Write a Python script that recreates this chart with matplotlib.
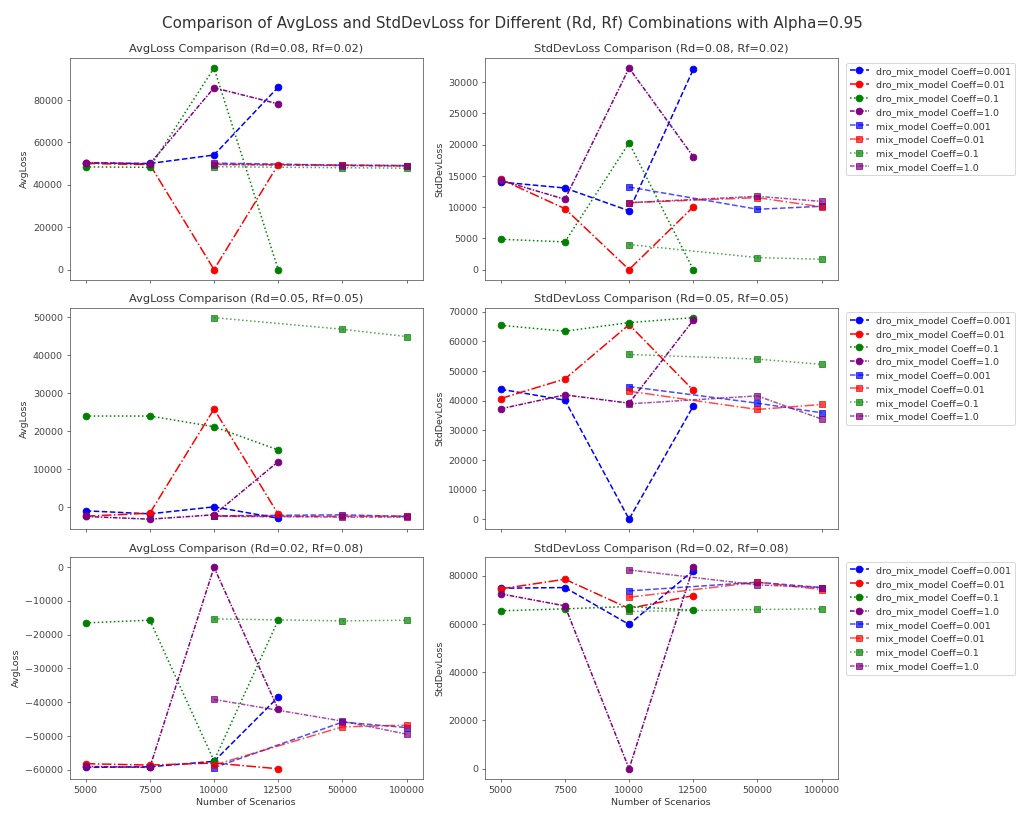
import matplotlib
matplotlib.use("Agg")
import matplotlib.pyplot as plt

plt.rcParams['font.family'] = ['DejaVu Sans']
plt.rcParams['text.color'] = '#333333'
plt.rcParams['axes.labelcolor'] = '#333333'
plt.rcParams['xtick.color'] = '#444444'
plt.rcParams['ytick.color'] = '#444444'
plt.rcParams['axes.edgecolor'] = '#555555'

scen_dro = ['5000', '7500', '10000', '12500']
scen_mix = ['10000', '50000', '100000']
coeffs = ['0.001', '0.01', '0.1', '1.0']
colors = ['blue', 'red', 'green', 'purple']
styles = ['--', '-.', ':', (0, (3, 1, 1, 1))]
titles = ['(Rd=0.08, Rf=0.02)', '(Rd=0.05, Rf=0.05)', '(Rd=0.02, Rf=0.08)']

# ---- Rd=0.08, Rf=0.02 ----
avg1_dro_0001 = [50300, 50000, 54000, 86000]
avg1_dro_001 = [50000, 49500, 0, 49500]
avg1_dro_01 = [48400, 48200, 95000, 0]
avg1_dro_1 = [50400, 49800, 85700, 78100]
avg1_mix_0001 = [50200, 49200, 49000]
avg1_mix_001 = [49700, 49300, 49000]
avg1_mix_01 = [48500, 48000, 47800]
avg1_mix_1 = [49500, 49000, 48800]

std1_dro_0001 = [14000, 13050, 9400, 32030]
std1_dro_001 = [14440, 9750, 0, 10020]
std1_dro_01 = [4850, 4420, 20250, 0]
std1_dro_1 = [14280, 11240, 32240, 18070]
std1_mix_0001 = [13200, 9650, 10120]
std1_mix_001 = [10700, 11500, 10020]
std1_mix_01 = [4000, 1920, 1650]
std1_mix_1 = [10700, 11720, 10900]

# ---- Rd=0.05, Rf=0.05 ----
avg2_dro_0001 = [-1050, -1840, 0, -2980]
avg2_dro_001 = [-2460, -1670, 25790, -1930]
avg2_dro_01 = [23950, 23950, 21140, 15000]
avg2_dro_1 = [-2540, -3250, -2100, 11930]
avg2_mix_0001 = [-2370, -2100, -2540]
avg2_mix_001 = [-2400, -2500, -2400]
avg2_mix_01 = [49900, 46840, 44910]
avg2_mix_1 = [-2500, -2700, -2700]

std2_dro_0001 = [43830, 40140, 0, 38130]
std2_dro_001 = [40700, 47300, 65630, 43490]
std2_dro_01 = [65400, 63400, 66300, 67980]
std2_dro_1 = [37230, 41930, 39130, 67080]
std2_mix_0001 = [44720, 39130, 35890]
std2_mix_001 = [43160, 37010, 38690]
std2_mix_01 = [55560, 54000, 52210]
std2_mix_1 = [38900, 41590, 33760]

# ---- Rd=0.02, Rf=0.08 ----
avg3_dro_0001 = [-59300, -59100, -57500, -38500]
avg3_dro_001 = [-58200, -58600, -58000, -59700]
avg3_dro_01 = [-16550, -15760, -57330, -15760]
avg3_dro_1 = [-59000, -59300, -100, -42060]
avg3_mix_0001 = [-59400, -45900, -47500]
avg3_mix_001 = [-58600, -47300, -46800]
avg3_mix_01 = [-15370, -15960, -15760]
avg3_mix_1 = [-39200, -45600, -49450]

std3_dro_0001 = [74770, 75050, 59760, 82070]
std3_dro_001 = [74500, 78490, 66370, 71740]
std3_dro_01 = [65410, 66230, 67200, 65680]
std3_dro_1 = [72430, 67470, 0, 83450]
std3_mix_0001 = [73670, 77250, 75050]
std3_mix_001 = [71050, 77250, 74220]
std3_mix_01 = [65130, 65960, 66230]
std3_mix_1 = [82350, 76150, 75050]

avg_dro = [
    [avg1_dro_0001, avg1_dro_001, avg1_dro_01, avg1_dro_1],
    [avg2_dro_0001, avg2_dro_001, avg2_dro_01, avg2_dro_1],
    [avg3_dro_0001, avg3_dro_001, avg3_dro_01, avg3_dro_1],
]
avg_mix = [
    [avg1_mix_0001, avg1_mix_001, avg1_mix_01, avg1_mix_1],
    [avg2_mix_0001, avg2_mix_001, avg2_mix_01, avg2_mix_1],
    [avg3_mix_0001, avg3_mix_001, avg3_mix_01, avg3_mix_1],
]
std_dro = [
    [std1_dro_0001, std1_dro_001, std1_dro_01, std1_dro_1],
    [std2_dro_0001, std2_dro_001, std2_dro_01, std2_dro_1],
    [std3_dro_0001, std3_dro_001, std3_dro_01, std3_dro_1],
]
std_mix = [
    [std1_mix_0001, std1_mix_001, std1_mix_01, std1_mix_1],
    [std2_mix_0001, std2_mix_001, std2_mix_01, std2_mix_1],
    [std3_mix_0001, std3_mix_001, std3_mix_01, std3_mix_1],
]

fig, axes = plt.subplots(3, 2, figsize=(15, 12), sharex=True)
fig.subplots_adjust(left=0.068, right=0.818, top=0.929, bottom=0.049,
                    wspace=0.176, hspace=0.126)

for r in range(3):
    for c, (dro, mix, name) in enumerate([(avg_dro, avg_mix, 'AvgLoss'),
                                          (std_dro, std_mix, 'StdDevLoss')]):
        ax = axes[r, c]
        for i in range(4):
            ax.plot(scen_dro, dro[r][i], marker='o', markersize=7, linewidth=1.6,
                    linestyle=styles[i], color=colors[i],
                    label=f'dro_mix_model Coeff={coeffs[i]}')
        for i in range(4):
            ax.plot(scen_mix, mix[r][i], marker='s', markersize=7, linewidth=1.6,
                    linestyle=styles[i], color=colors[i], alpha=0.7,
                    label=f'mix_model Coeff={coeffs[i]}')
        ax.set_title(f'{name} Comparison {titles[r]}', fontsize=12)
        ax.set_ylabel(name)
        if r == 2:
            ax.set_xlabel('Number of Scenarios')
        if c == 1:
            ax.legend(loc='upper left', bbox_to_anchor=(1.01, 1.0))

fig.suptitle('Comparison of AvgLoss and StdDevLoss for Different (Rd, Rf) Combinations with Alpha=0.95',
             fontsize=16)
fig.savefig('out.png', dpi=1024 / 15)
